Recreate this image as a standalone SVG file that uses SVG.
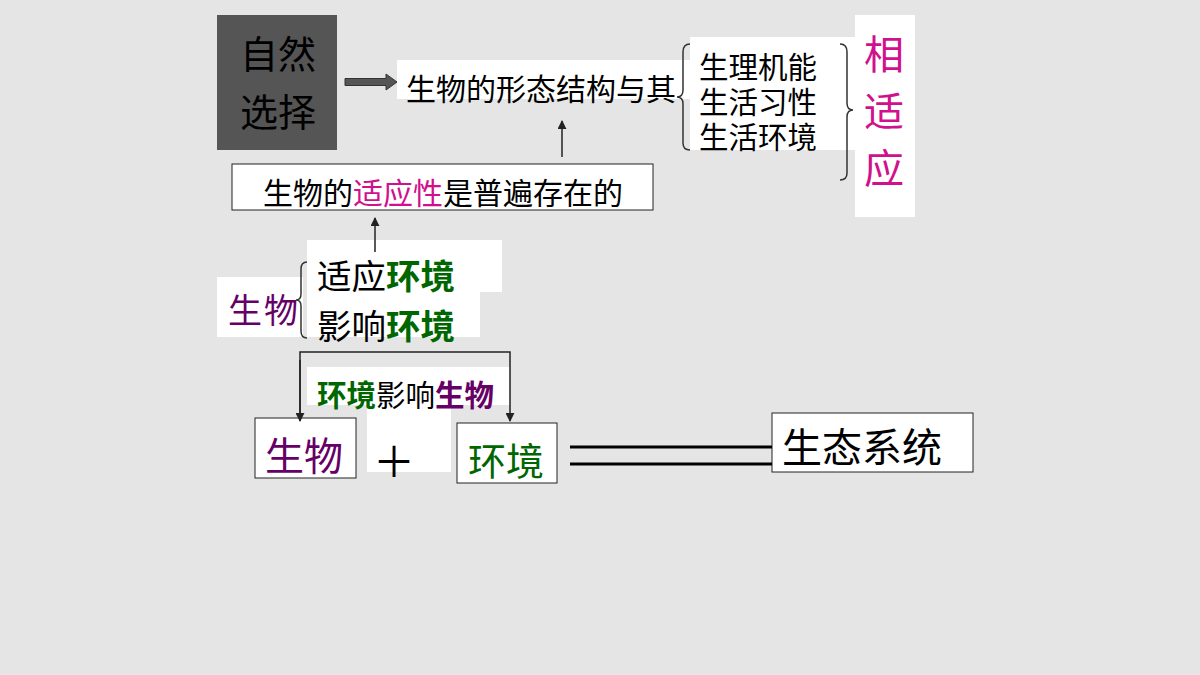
<svg xmlns="http://www.w3.org/2000/svg" width="1200" height="675" viewBox="0 0 1200 675">
<defs>
<style>
text{font-family:"Noto Sans CJK SC","Liberation Sans",sans-serif;fill:#000}
.w{fill:#fff}
.box{fill:#fff;stroke:#222;stroke-width:1}
.m{fill:#d0108c}
.p{fill:#660066}
.g{fill:#006600}
.ln{fill:none;stroke:#222;stroke-width:1.5}
.br{fill:none;stroke:#333;stroke-width:1.5}
</style>
<marker id="ah" viewBox="0 0 10 10" refX="9" refY="5" markerWidth="6" markerHeight="6" orient="auto"><path d="M0,0 L10,5 L0,10 z" fill="#222"/></marker>
</defs>
<rect width="1200" height="675" fill="#e5e5e5"/>
<g id="natural-selection">
<rect x="217" y="15" width="120" height="135" fill="#555"/>
<text x="278" y="68" font-size="38" text-anchor="middle">自然</text>
<text x="278" y="126" font-size="38" text-anchor="middle">选择</text>
</g>
<g id="form-structure">
<rect class="w" x="397" y="60" width="293" height="39"/>
<text x="406" y="100" font-size="30">生物的形态结构与其</text>
</g>
<g id="traits">
<rect class="w" x="690" y="37" width="165" height="113"/>
<text x="699" y="78" font-size="29.5"><tspan x="699" y="78">生理机能</tspan><tspan x="699" y="113">生活习性</tspan><tspan x="699" y="148">生活环境</tspan></text>
</g>
<g id="adapt">
<rect class="w" x="855" y="15" width="60" height="202"/>
<text x="884" y="69" font-size="40" class="m" text-anchor="middle">相</text>
<text x="884" y="126" font-size="40" class="m" text-anchor="middle">适</text>
<text x="884" y="183" font-size="40" class="m" text-anchor="middle">应</text>
</g>
<g id="universal">
<rect class="box" x="232" y="164" width="421" height="46"/>
<text x="263" y="204" font-size="30">生物的<tspan class="m">适应性</tspan>是普遍存在的</text>
</g>
<g id="organism-env">
<rect class="w" x="307" y="240" width="195" height="52"/>
<rect class="w" x="307" y="292" width="173" height="45"/>
<rect class="w" x="217" y="277" width="86" height="60"/>
<text x="228" y="323" font-size="34" class="p" letter-spacing="2">生物</text>
<text x="317" y="289" font-size="34.5">适应<tspan class="g" font-weight="bold">环境</tspan></text>
<text x="317" y="339" font-size="34.5">影响<tspan class="g" font-weight="bold">环境</tspan></text>
</g>
<g id="plus">
<rect class="w" x="367" y="405" width="84" height="67"/>
<text x="394" y="477" font-size="42" text-anchor="middle">＋</text>
</g>
<g id="env-affects">
<rect class="w" x="307" y="367" width="203" height="38"/>
<text x="317" y="406" font-size="29.5" font-weight="bold"><tspan class="g">环境</tspan><tspan font-weight="normal">影响</tspan><tspan class="p">生物</tspan></text>
</g>
<g id="organism">
<rect class="box" x="255" y="418" width="101" height="60"/>
<text x="265" y="470" font-size="39" class="p">生物</text>
</g>
<g id="environment">
<rect class="box" x="457" y="423" width="100" height="60"/>
<text x="468" y="475" font-size="38" class="g">环境</text>
</g>
<g id="ecosystem">
<rect class="box" x="772" y="413" width="201" height="59"/>
<text x="782" y="462" font-size="40">生态系统</text>
</g>
<g id="connectors">
<path d="M345,78.5 H386 V74 L397,82 L386,90 V85.5 H345 Z" fill="#555" stroke="#333" stroke-width="1"/>
<line class="ln" x1="562" y1="157" x2="562" y2="121" marker-end="url(#ah)"/>
<line class="ln" x1="375" y1="252" x2="375" y2="218" marker-end="url(#ah)"/>
<path class="ln" d="M300,421 V352 H510 V421" marker-end="url(#ah)"/>
<line class="ln" x1="300" y1="360" x2="300" y2="421" marker-end="url(#ah)"/>
<path class="br" d="M690,44 Q683,44 683,52 V90 Q683,97 677,97 Q683,97 683,104 V143 Q683,150 690,150"/>
<path class="br" d="M840,44 Q847,44 847,52 V103 Q847,110 853,110 Q847,110 847,117 V173 Q847,180 840,180"/>
<path class="br" d="M307,262 Q301,262 301,269 V294 Q301,300 296,300 Q301,300 301,306 V331 Q301,338 307,338"/>
<line x1="570" y1="447" x2="772" y2="447" stroke="#000" stroke-width="3"/>
<line x1="570" y1="464" x2="772" y2="464" stroke="#000" stroke-width="3"/>
</g>
</svg>
